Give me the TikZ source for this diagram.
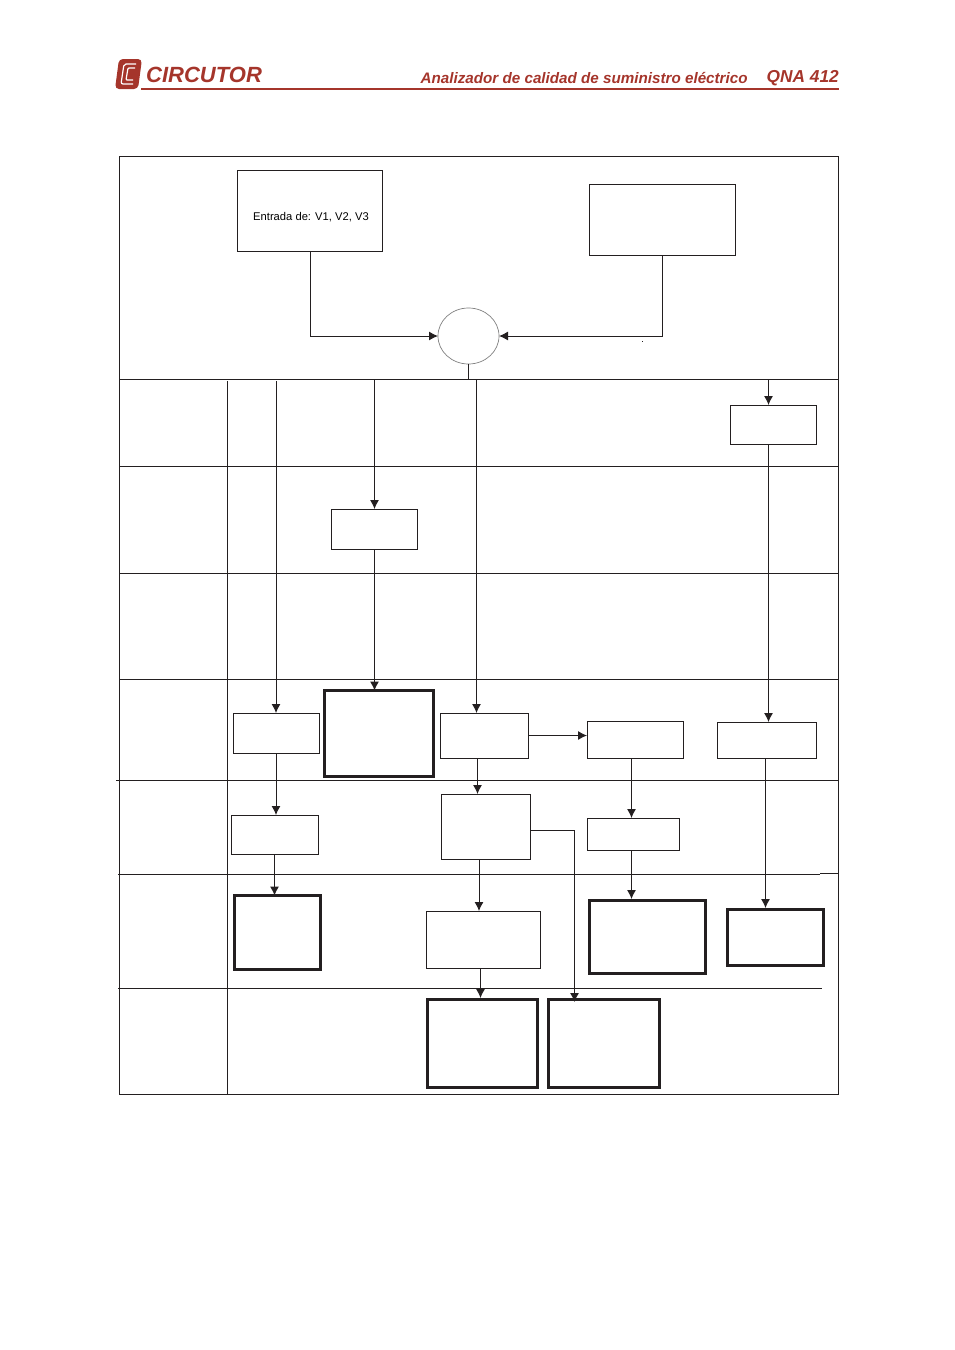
\documentclass[tikz,border=0pt]{standalone}
\usepackage{xcolor}
\usepackage{fontspec}
\setmainfont{Liberation Sans}
\usetikzlibrary{arrows.meta}
\usetikzlibrary{shapes.geometric}
\definecolor{Headcol}{HTML}{A5352B}
\definecolor{Linecol}{HTML}{231F20}
\tikzset{>={Latex[length=9pt,width=9pt]}}
\tikzset{
    thinbox/.style={draw=Linecol, line width=1pt, inner sep=0pt, outer sep=0pt, fill=white},
    thickbox/.style={draw=Linecol, line width=3pt, inner sep=0pt, outer sep=0pt, fill=white},
    gridline/.style={Linecol, line width=1pt},
    flow/.style={Linecol, line width=1pt, ->},
}

\begin{document}
\begin{tikzpicture}[x=1pt, y=-1pt]
    \useasboundingbox (0,0) rectangle (954,1350);

    % header
    \fill[Headcol] (141,88) rectangle (839,90);
    \fill[Headcol, rounded corners=4pt] (119,59) -- (142,59) -- (138,89) -- (115,89) -- cycle;
    \draw[white, line width=1.2pt, rounded corners=2pt] (136,64) -- (124,64) -- (121,84) -- (133,84);
    \draw[white, line width=1.2pt, rounded corners=1pt] (135,68) -- (128,68) -- (126,80) -- (133,80);
    \node[text=Headcol, font=\bfseries\itshape, anchor=base west, inner sep=0pt] (brand) at (146,82)
        {\fontsize{22}{22}\selectfont CIRCUTOR};
    \node[text=Headcol, font=\bfseries\itshape, anchor=base west, inner sep=0pt] (title) at (420.5,83)
        {\fontsize{15.2}{16}\selectfont Analizador de calidad de suministro eléctrico};
    \node[text=Headcol, font=\bfseries\itshape, anchor=base east, inner sep=0pt] (model) at (839,82.5)
        {\fontsize{17.3}{18}\selectfont QNA 412};

    % table
    \draw[gridline] (119,156) rectangle (838,1094);
    \draw[gridline] (227,381) -- (227,1094);
    \foreach \y in {379,466,573,679}
        \draw[gridline] (119,\y) -- (838,\y);
    \draw[gridline] (116,780) -- (838,780);
    \draw[gridline] (118,874) -- (820,874);
    \draw[gridline] (820,873) -- (838,873);
    \draw[gridline] (118,988) -- (822,988);
    \fill[Linecol] (642,340.5) rectangle (643,341.5);

    % top
    \node[thinbox, minimum width=145pt, minimum height=81pt] (inV) at (310,210.5) {};
    \node[font=\fontsize{11.2}{11}\selectfont, inner sep=0pt] (inVtext) at (311,217) {Entrada de: V1, V2, V3};
    \node[thinbox, minimum width=146pt, minimum height=71pt] (inRef) at (662.5,219.5) {};
    \node[draw=gray, line width=0.7pt, ellipse, minimum width=61pt, minimum height=56pt, inner sep=0pt, outer sep=0pt] (sum) at (468.5,336) {};

    % thin boxes
    \node[thinbox, minimum width=86pt, minimum height=39pt] (cfgR) at (773,424.5) {};
    \node[thinbox, minimum width=86pt, minimum height=40pt] (cfgM) at (374.5,529) {};
    \node[thinbox, minimum width=86pt, minimum height=40pt] (calA) at (276,733) {};
    \node[thinbox, minimum width=88pt, minimum height=45pt] (calB) at (484,735.5) {};
    \node[thinbox, minimum width=96pt, minimum height=37pt] (calC) at (635,739.5) {};
    \node[thinbox, minimum width=99pt, minimum height=36pt] (calD) at (767,740) {};
    \node[thinbox, minimum width=87pt, minimum height=39pt] (avgA) at (274.5,834.5) {};
    \node[thinbox, minimum width=89pt, minimum height=65pt] (avgB) at (485.5,826.5) {};
    \node[thinbox, minimum width=92pt, minimum height=32pt] (avgC) at (633,834) {};
    \node[thinbox, minimum width=114pt, minimum height=57pt] (recB) at (483,939.5) {};

    % thick boxes
    \node[thickbox, minimum width=109pt, minimum height=86pt] (outM) at (379,733.5) {};
    \node[thickbox, minimum width=86pt, minimum height=74pt] (outA) at (277,932.5) {};
    \node[thickbox, minimum width=116pt, minimum height=73pt] (outC) at (647.5,936.5) {};
    \node[thickbox, minimum width=96pt, minimum height=56pt] (outD) at (775.5,937) {};
    \node[thickbox, minimum width=110pt, minimum height=88pt] (outB) at (482.5,1043) {};
    \node[thickbox, minimum width=111pt, minimum height=88pt] (outE) at (603.5,1043) {};

    % free ends on the bus
    \coordinate (busA) at (276,381);
    \coordinate (busM) at (374.5,379);
    \coordinate (busS) at (468,379);
    \coordinate (busB) at (476.5,379);
    \coordinate (busR) at (768.5,379);
    \coordinate (turnE) at (574.5,830);
    \coordinate (endE) at (574.5,1002);

    % connectors
    \draw[flow] (inV.south) |- (sum.west);
    \draw[flow] (inRef.south) |- (sum.east);
    \draw[gridline] (busS |- sum.south) -- (busS);
    \draw[flow] (busA) -- (calA.north);
    \draw[flow] (busM) -- (cfgM.north);
    \draw[flow] (cfgM.south) -- (cfgM.south |- outM.north);
    \draw[flow] (busB) -- (busB |- calB.north);
    \draw[flow] (busR) -- (busR |- cfgR.north);
    \draw[flow] (busR |- cfgR.south) -- (busR |- calD.north);
    \draw[flow] (calB.east) -- (calB.east -| calC.west);
    \draw[flow] (calA.south) -- (avgA.north -| calA.south);
    \draw[flow] (avgA.south) -- (avgA.south |- outA.north);
    \draw[flow] (477.5,758) -- (477.5,794);
    \draw[flow] (631.5,758) -- (631.5,818);
    \draw[flow] (631.5,850) -- (631.5,899);
    \draw[flow] (479,859) -- (479,911);
    \draw[flow] (480.5,968) -- (480.5,998);
    \draw[flow] (765.5,758) -- (765.5,908);
    \draw[flow] (avgB.east |- turnE) -- (turnE) -- (endE);
\end{tikzpicture}
\end{document}
